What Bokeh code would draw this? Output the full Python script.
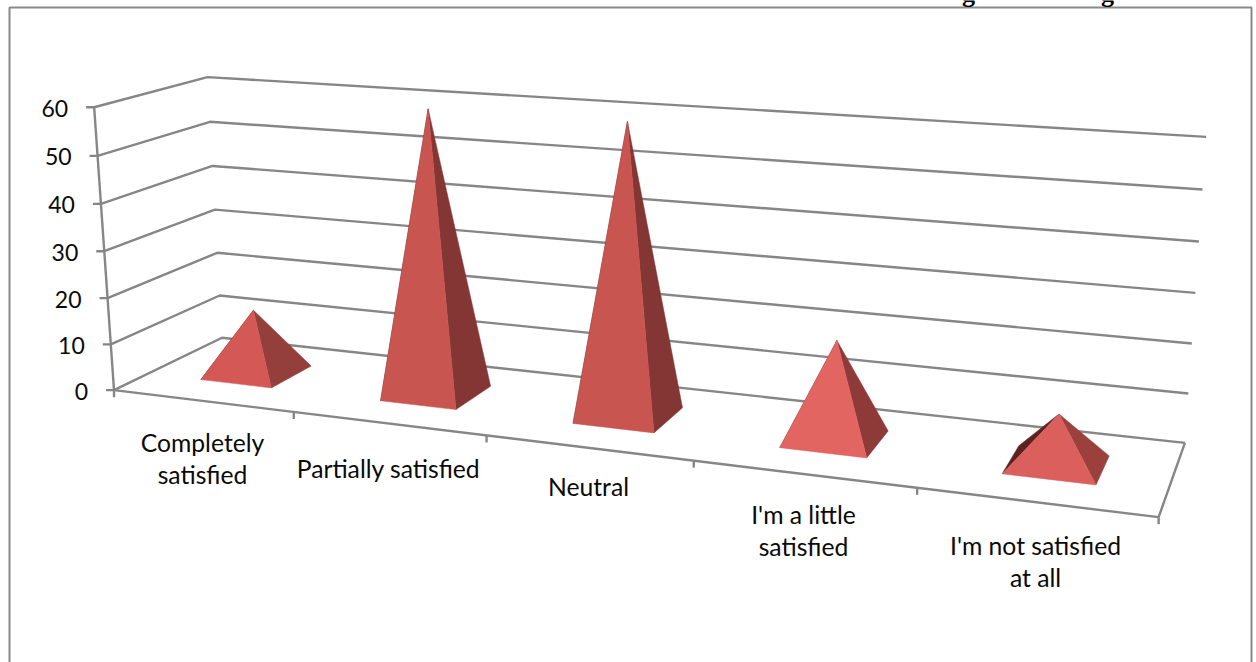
import numpy as np
from bokeh.core.properties import value
from bokeh.embed import file_html
from bokeh.models import Range1d
from bokeh.plotting import figure
from bokeh.resources import INLINE

# Survey results
categories = [
    ["Completely", "satisfied"],
    ["Partially satisfied"],
    ["Neutral"],
    ["I'm a little", "satisfied"],
    ["I'm not satisfied", "at all"],
]
responses = [14, 60, 60, 20, 10]
axis_levels = [0, 10, 20, 30, 40, 50, 60]

# Shading of each pyramid's faces
front_colors = ["#D45855", "#C95551", "#C95551", "#E26562", "#DB5F5C"]
right_colors = ["#953F3C", "#833634", "#833634", "#8E3A39", "#9B403D"]
left_colors = ["#5A2220", "#5A2220", "#5A2220", "#5A2220", "#5A2220"]

# Category label rows: centre x, then first-line centre y
label_x = [202, 388, 588, 803, 1035]
label_y = [442, 468, 486, 514, 545]

GRID = "#868686"
TEXT = "#0A0A0A"
FONT = value("Lato")
N = len(categories)
TOP = axis_levels[-1]

# Camera calibration: (category position, depth, level) -> page position
calibration = [
    (0, 0, 60, 93, 107), (0, 0, 50, 96, 155), (0, 0, 40, 100, 203), (0, 0, 30, 104, 250),
    (0, 0, 20, 108, 297), (0, 0, 10, 111, 343), (0, 0, 0, 114, 390),
    (0, 1, 60, 208, 77), (0, 1, 50, 210, 122), (0, 1, 40, 212, 165), (0, 1, 30, 214.5, 209),
    (0, 1, 20, 216, 253), (0, 1, 10, 218.5, 295), (0, 1, 0, 221, 337),
    (5, 1, 60, 1206, 137), (5, 1, 50, 1201, 188), (5, 1, 40, 1198, 241), (5, 1, 30, 1196, 293),
    (5, 1, 20, 1192, 343), (5, 1, 10, 1188, 393), (5, 1, 0, 1184, 441),
    (1, 0, 0, 293, 412), (2, 0, 0, 487, 436), (3, 0, 0, 693, 460.5), (4, 0, 0, 916, 487.5),
    (5, 0, 0, 1158, 517),
]


def fit_camera(rows):
    eqs = []
    for u, w, v, x, y in rows:
        P = [u / 5, w, v / 60, 1]
        X, Y = x / 1000, y / 1000
        eqs.append(P + [0, 0, 0, 0] + [-X * c for c in P])
        eqs.append([0, 0, 0, 0] + P + [-Y * c for c in P])
    return np.linalg.svd(np.array(eqs))[2][-1].reshape(3, 4)


CAMERA = fit_camera(calibration)


def project(u, w, v):
    h = CAMERA @ np.array([u / 5, w, v / 60, 1.0])
    return float(h[0] / h[2] * 1000), float(h[1] / h[2] * 1000)


p = figure(
    width=1256, height=662, output_backend="svg", toolbar_location=None,
    x_range=Range1d(0, 1256), y_range=Range1d(662, 0),
    min_border=0, outline_line_color=None,
)
p.axis.visible = False
p.grid.visible = False
p.background_fill_color = "white"


def seg(a, b):
    return [a[0], b[0]], [a[1], b[1]]


# Chart frame, running off the bottom of the page
p.line([9, 9, 1251, 1251], [680, 7, 7, 680], line_color="#898989", line_width=2)

# Descenders of the heading that sits above the frame
p.text([968, 1107], [-7, -7], text=["g", "g"], text_font=value("Liberation Serif"),
       text_font_style="bold", text_font_size="26px", text_color="#000000",
       text_align="center", text_baseline="alphabetic")

# Walls, floor and axes
xs, ys = [], []
for lv in axis_levels:
    a, b, c = project(0, 0, lv), project(0, 1, lv), project(N, 1, lv)
    xs.append([a[0], b[0], c[0]])
    ys.append([a[1], b[1], c[1]])
    xs.append([a[0] - 8, a[0]])
    ys.append([a[1], a[1]])
for s in (seg(project(0, 0, 0), project(0, 0, TOP)),
          seg(project(0, 0, 0), project(N, 0, 0)),
          seg(project(N, 0, 0), project(N, 1, 0))):
    xs.append(s[0])
    ys.append(s[1])
for i in range(N + 1):
    f = project(i, 0, 0)
    xs.append([f[0], f[0]])
    ys.append([f[1], f[1] + 7])
p.multi_line(xs, ys, line_color=GRID, line_width=2.4)

# Value axis labels
lab = [project(0, 0, lv) for lv in axis_levels]
p.text([q[0] - 26 for q in lab], [q[1] + 1 for q in lab], text=[str(v) for v in axis_levels],
       text_font=FONT, text_font_size="23px", text_color=TEXT,
       text_align="right", text_baseline="middle")

# Category labels
tx, ty, tt = [], [], []
for names, cx, cy in zip(categories, label_x, label_y):
    for k, line in enumerate(names):
        tx.append(cx)
        ty.append(cy + k * 31.5)
        tt.append(line)
p.text(tx, ty, text=tt, text_font=FONT, text_font_size="24.7px", text_color=TEXT,
       text_align="center", text_baseline="middle")

# Pyramids
CENTRE_U, HALF_U, HALF_W = 0.505, 0.2, 0.2
fx, fy, fc = [], [], []
for i, val in enumerate(responses):
    cu = i + CENTRE_U
    fl = project(cu - HALF_U, 0.5 - HALF_W, 0)
    fr = project(cu + HALF_U, 0.5 - HALF_W, 0)
    br = project(cu + HALF_U, 0.5 + HALF_W, 0)
    bl = project(cu - HALF_U, 0.5 + HALF_W, 0)
    apex = project(cu, 0.5, val)
    for tri, col in (((fl, bl, apex), left_colors[i]),
                     ((fr, br, apex), right_colors[i]),
                     ((fl, fr, apex), front_colors[i])):
        fx.append([q[0] for q in tri])
        fy.append([q[1] for q in tri])
        fc.append(col)
p.patches(fx, fy, fill_color=fc, line_color=fc, line_width=0.5)

open("out.html", "w").write(file_html(p, INLINE))
